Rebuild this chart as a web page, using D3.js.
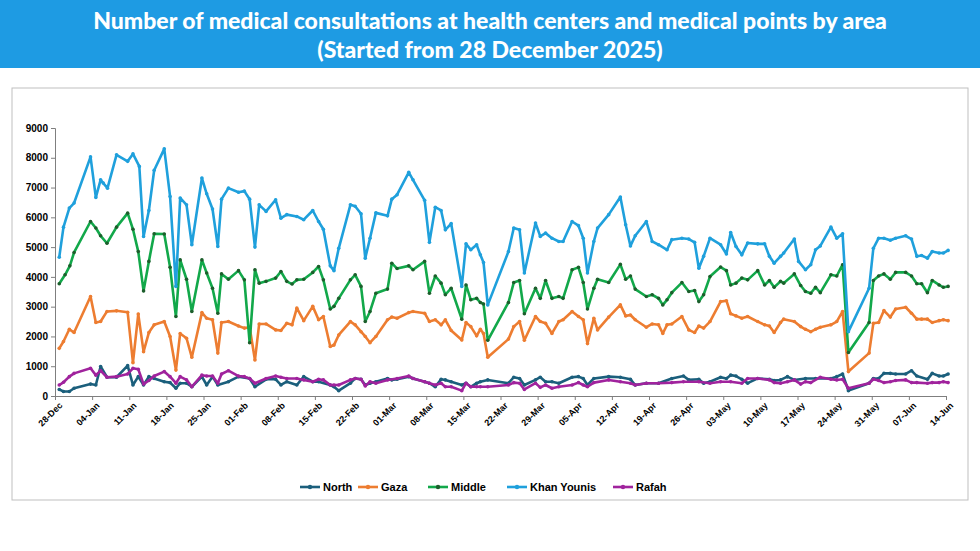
<!DOCTYPE html>
<html>
<head>
<meta charset="utf-8">
<script src="https://cdn.jsdelivr.net/npm/d3@7"></script>
<style>
  body { margin: 0; background: #fff; font-family: Arial, "Liberation Sans", sans-serif; }
  #banner { position: absolute; left: 0; top: 0; width: 980px; height: 68px; background: #1e9be3;
    color: #fff; font-family: Lato, "Open Sans", sans-serif; font-weight: 900; font-size: 23px;
    text-align: center; line-height: 29px; padding-top: 6px; box-sizing: border-box; }
  #chart { position: absolute; left: 0; top: 0; }
</style>
</head>
<body>
<div id="banner">Number of medical consultations at health centers and medical points by area<br>(Started from 28 December 2025)</div>
<div id="chart"></div>
<script>
// day offsets from 28-Dec-2025, value
var north = [[0.8,220],[1.6,150],[2.7,150],[3.6,260],[6.7,400],[7.7,370],[8.6,990],[9.8,630],[11.6,630],[13.7,1020],[14.7,370],[15.7,650],[16.7,370],[17.7,650],[18.7,590],[20.6,480],[21.7,450],[22.8,260],
  [23.6,430],[24.8,430],[25.8,310],[27.7,650],[28.6,370],[29.7,650],[30.7,370],[32.7,480],[34.6,650],[36.7,590],[37.7,310],[39.8,560],[41.6,560],[42.6,370],[43.7,480],[45.6,370],[46.9,650],[48.6,480],[49.7,480],
  [51.9,370],[52.6,310],[53.5,180],[55.7,430],[56.6,590],[57.7,560],[58.5,370],[59.4,430],[60.5,480],[62.7,590],[63.5,540],[64.5,560],[66.7,650],[67.5,590],[69.7,480],[70.6,430],[71.7,310],[72.8,560],[73.6,540],[74.7,480],[76.7,370],[77.5,430],[78.4,310],[79.5,430],
  [80.2,480],[81.6,540],[85.5,430],[86.5,630],[87.6,590],[88.5,370],[90.6,540],[91.5,630],[92.5,480],[93.7,480],[95.0,430],[97.5,630],[98.7,650],[99.6,590],[100.4,370],[101.6,590],[104.4,650],[106.6,630],
  [108.5,560],[109.4,370],[111.5,430],[113.8,430],[116.3,590],[118.5,670],[119.5,540],[121.4,560],[122.3,430],[123.5,480],[125.5,630],[126.6,590],[127.4,700],[128.4,670],[129.5,560],[130.6,430],[132.5,590],[134.7,560],[135.6,520],
  [136.8,540],[138.1,650],[139.4,540],[141.5,590],[143.4,590],[146.3,590],[147.4,650],[148.5,740],[149.6,180],[153.5,430],[154.3,590],[155.3,590],[156.3,760],[157.5,760],[158.5,740],[160.4,740],[161.5,850],[162.5,670],[164.5,560],[165.4,760],[166.7,670],[167.5,670],[168.4,740]];

var gaza = [[0.8,1600],[1.6,1830],[2.7,2240],[3.6,2130],[6.7,3340],[7.7,2470],[8.6,2500],[9.8,2840],[11.6,2860],[13.7,2810],[14.7,1120],[15.7,2750],[16.7,1490],[17.7,2130],[18.7,2390],[20.6,2500],[21.7,2000],[22.8,870],
  [23.6,2100],[24.8,1940],[25.8,1300],[27.7,2800],[28.6,2610],[29.7,2560],[30.7,1440],[31.4,2470],[32.7,2500],[34.6,2350],[35.7,2280],[36.7,2310],[37.7,1210],[38.5,2420],[39.8,2420],[41.6,2220],[42.6,2200],[43.7,2440],[44.7,2390],[45.6,2950],[46.9,2530],[48.6,3010],[49.7,2560],[50.6,2670],
  [51.9,1660],[52.6,1710],[53.5,2050],[55.7,2500],[56.6,2390],[57.7,2160],[58.5,2000],[59.4,1790],[60.5,2000],[62.7,2560],[63.5,2650],[64.5,2610],[66.7,2800],[67.5,2840],[69.7,2780],[70.6,2500],[71.7,2560],[72.8,2390],[73.6,2560],[74.7,2200],[76.7,1880],[77.5,2470],[78.4,2330],[79.5,2020],
  [80.2,2240],[80.8,2100],[81.6,1300],[85.5,1910],[86.5,2330],[87.6,2500],[88.5,1870],[90.6,2670],[91.5,2500],[92.5,2440],[93.7,2100],[95.0,2500],[95.8,2560],[97.5,2840],[98.7,2670],[99.6,2560],[100.4,1760],[101.6,2610],[102.3,2220],[104.4,2650],[106.6,3060],[107.6,2690],
  [108.5,2720],[109.4,2560],[111.5,2310],[112.6,2420],[113.8,2390],[114.6,2100],[115.4,2390],[116.3,2420],[118.2,2670],[119.5,2220],[120.6,2130],[121.4,2350],[122.3,2280],[123.5,2500],[125.5,3170],[126.6,3200],[127.4,2760],[128.4,2690],[129.5,2610],[130.6,2670],[132.5,2500],[133.8,2390],[134.7,2350],[135.6,2130],
  [136.8,2470],[137.4,2580],[139.4,2500],[140.6,2330],[141.5,2240],[142.5,2160],[143.4,2240],[144.3,2310],[146.3,2390],[147.4,2500],[148.5,2840],[149.6,820],[153.5,1440],[154.3,2440],[155.3,2470],[156.3,2870],[157.5,2650],[158.5,2920],[160.4,2980],[161.5,2780],[162.5,2580],[163.4,2580],[164.5,2580],[165.4,2470],[166.7,2530],[167.5,2560],[168.4,2530]];

var middle = [[0.8,3770],[1.9,4070],[2.8,4370],[3.6,4820],[6.7,5860],[7.7,5640],[8.6,5380],[9.8,5130],[11.6,5670],[13.7,6140],[14.7,5600],[15.7,4850],[16.7,3530],[17.7,4520],[18.7,5450],[20.6,5440],[21.7,4320],[22.8,2670],
  [23.6,4570],[24.8,3920],[25.8,2840],[27.7,4570],[28.6,4130],[29.7,3620],[30.7,2780],[31.4,4100],[32.7,3920],[34.6,4210],[35.7,3900],[36.7,1790],[37.7,4240],[38.5,3790],[39.8,3850],[41.6,3960],[42.6,4180],[43.7,3850],[44.7,3760],[45.6,3900],[46.9,3920],[48.6,4150],[49.7,4350],[50.6,3900],
  [51.9,2920],[52.6,3010],[53.5,3280],[55.7,3900],[56.6,4070],[57.7,3680],[58.5,2500],[59.4,2840],[60.5,3450],[62.7,3590],[63.5,4460],[64.5,4280],[66.7,4370],[67.5,4240],[69.7,4520],[70.6,3450],[71.7,4030],[72.8,3790],[73.6,3400],[74.7,3620],[76.7,2580],[77.5,3730],[78.4,3230],[79.5,3280],
  [80.2,3140],[80.8,3090],[81.6,1870],[85.5,3140],[86.5,3810],[87.6,3880],[88.5,2760],[90.6,3620],[91.5,3280],[92.5,3880],[93.7,3280],[95.0,3340],[95.8,3280],[97.5,4240],[98.7,4320],[99.6,3810],[100.4,2920],[101.6,3620],[102.3,3920],[104.4,3810],[106.6,4420],[107.6,3920],
  [108.5,4030],[109.4,3590],[111.5,3340],[112.6,3400],[113.8,3280],[114.6,3060],[115.4,3230],[116.3,3470],[118.2,3810],[119.5,3510],[120.6,3540],[121.4,3170],[122.3,3400],[123.5,4010],[125.5,4330],[126.6,4210],[127.4,3730],[128.4,3790],[129.5,3960],[130.6,3900],[132.5,4210],[133.8,3730],[134.7,3880],[135.6,3650],
  [136.8,3850],[137.4,3790],[139.4,4100],[140.6,3710],[141.5,3510],[142.5,3450],[143.4,3650],[144.3,3470],[146.3,4070],[147.4,4030],[148.5,4410],[149.6,1460],[153.5,2470],[154.3,3880],[155.3,4030],[156.3,4100],[157.5,3920],[158.5,4150],[160.4,4150],[161.5,4030],[162.5,3770],[163.4,3770],[164.5,3470],[165.4,3880],[166.7,3730],[167.5,3650],[168.4,3680]];

var khanYounis = [[0.8,4660],[1.6,5670],[2.7,6310],[3.6,6480],[6.7,8030],[7.7,6670],[8.6,7260],[9.1,7150],[9.9,6980],[11.6,8100],[13.7,7880],[14.7,8130],[15.9,7710],[16.7,5360],[17.7,6230],[18.7,7580],[20.6,8300],[21.7,6700],[22.8,3680],
  [23.6,6650],[24.8,6420],[25.8,5080],[27.7,7320],[28.6,6790],[29.7,6280],[30.7,5020],[31.4,6610],[32.7,6980],[34.6,6840],[35.7,6880],[36.7,6610],[37.7,5000],[38.5,6420],[39.8,6200],[41.6,6590],[42.6,5970],[43.7,6090],[45.6,6030],[46.9,5920],[48.6,6230],[49.7,5860],[50.6,5600],
  [51.9,4370],[52.6,4210],[53.5,4960],[55.7,6420],[56.6,6370],[57.7,6120],[58.5,4630],[59.4,5300],[60.5,6150],[62.7,6050],[63.5,6610],[64.5,6760],[66.7,7510],[67.5,7260],[69.7,6570],[70.6,5160],[71.7,6340],[72.8,6230],[73.6,5580],[74.7,5790],[76.7,3680],[77.5,5110],[78.4,4910],[79.5,5080],
  [80.2,4740],[80.8,4480],[81.6,3060],[85.5,4850],[86.5,5640],[87.6,5580],[88.5,4130],[90.6,5810],[91.5,5360],[92.5,5470],[93.7,5300],[95.0,5190],[95.8,5190],[97.5,5860],[98.7,5720],[99.6,5300],[100.4,4130],[101.6,5190],[102.3,5640],[104.4,6090],[106.6,6680],[107.6,5750],
  [108.5,5040],[109.4,5380],[111.5,5860],[112.6,5190],[113.8,5080],[115.4,4910],[116.3,5250],[118.2,5300],[119.5,5270],[120.6,5160],[121.4,4290],[122.3,4690],[123.5,5300],[125.5,5080],[126.6,4770],[127.4,5490],[128.4,5020],[129.5,4740],[130.6,5140],[132.5,5110],[133.8,5110],[134.7,4690],[135.6,4460],
  [136.8,4690],[137.4,4800],[139.4,5270],[140.2,4520],[141.5,4240],[142.5,4410],[143.4,4910],[144.3,5040],[146.3,5670],[147.4,5300],[148.5,5450],[149.6,2160],[153.5,3620],[154.3,4960],[155.3,5300],[156.3,5300],[157.5,5230],[158.5,5300],[160.4,5380],[161.5,5270],[162.5,4690],[163.4,4720],[164.5,4630],[165.4,4850],[166.7,4800],[167.5,4800],[168.4,4890]];

var rafah = [[0.8,370],[1.6,460],[2.7,650],[3.6,760],[6.7,930],[7.7,700],[8.6,850],[9.8,630],[11.6,650],[13.7,740],[14.7,930],[15.7,900],[16.7,400],[17.7,520],[18.7,670],[20.6,820],[21.7,650],[22.8,430],
  [23.6,650],[24.8,540],[25.8,310],[27.7,700],[28.6,670],[29.7,670],[30.7,430],[31.4,740],[32.7,850],[34.6,670],[35.7,650],[36.7,590],[37.7,430],[39.8,590],[41.6,670],[42.6,630],[43.7,590],[45.6,590],[46.9,540],[48.6,480],[49.7,560],[50.6,540],
  [51.9,370],[52.6,370],[53.5,370],[55.7,540],[56.6,590],[57.7,560],[58.5,340],[59.4,480],[60.5,430],[62.7,540],[64.5,590],[66.7,670],[67.5,590],[69.7,480],[70.6,430],[71.7,370],[72.8,430],[73.6,310],[74.7,310],[76.7,180],[77.5,430],[78.4,310],[79.5,310],
  [80.2,310],[81.6,310],[85.5,370],[86.5,450],[87.6,430],[88.5,220],[90.6,430],[91.5,290],[92.5,370],[93.7,260],[95.0,310],[97.5,370],[98.7,450],[99.6,370],[100.4,310],[101.6,450],[104.4,540],[106.6,480],
  [108.5,430],[109.4,370],[111.5,430],[113.8,430],[116.3,450],[118.5,480],[121.4,480],[123.5,430],[125.5,480],[127.4,480],[129.5,430],[130.6,590],[132.5,590],[134.7,540],[135.6,450],
  [136.8,430],[138.1,480],[139.4,540],[140.6,400],[141.5,480],[142.5,450],[144.3,630],[146.3,560],[147.4,540],[148.5,560],[149.6,260],[153.5,430],[154.3,560],[155.3,520],[156.3,450],[157.5,480],[158.5,520],[160.4,540],[161.5,450],[162.5,450],[164.5,430],[165.4,450],[166.7,450],[167.5,480],[168.4,450]];

var seriesNames = ["North", "Gaza", "Middle", "Khan Younis", "Rafah"];
var seriesData = [north, gaza, middle, khanYounis, rafah];
var seriesColors = ["#1b5f7c", "#ed7d31", "#12a84a", "#1fa0dc", "#a0239d"];
var markerColors = ["#1b5f7c", "#ed7d31", "#1d5e2c", "#1fa0dc", "#a0239d"];
var tickLabels = ["28-Dec","04-Jan","11-Jan","18-Jan","25-Jan","01-Feb","08-Feb","15-Feb","22-Feb","01-Mar","08-Mar","15-Mar","22-Mar","29-Mar","05-Apr","12-Apr","19-Apr","26-Apr","03-May","10-May","17-May","24-May","31-May","07-Jun","14-Jun"];
var yTicks = [0,1000,2000,3000,4000,5000,6000,7000,8000,9000];

var W = 980, H = 551;
var svg = d3.select('#chart').append('svg').attr('width', W).attr('height', H);

svg.append('rect').attr('x', 12).attr('y', 88).attr('width', 956).attr('height', 412)
  .attr('fill', 'none').attr('stroke', '#bfbfbf').attr('stroke-width', 1);

var x = d3.scaleLinear().domain([0, 168]).range([55, 946]);
var y = d3.scaleLinear().domain([0, 9000]).range([396, 128]);

var yAxis = svg.append('g').attr('transform', 'translate(55,0)')
  .call(d3.axisLeft(y).tickValues(yTicks).tickSize(4).tickFormat(d3.format('d')));
yAxis.selectAll('text').attr('font-size', 10).attr('font-weight', 'bold').attr('fill', '#000');
yAxis.selectAll('line, path').attr('stroke', '#7f7f7f');

var xAxis = svg.append('g').attr('transform', 'translate(0,396)')
  .call(d3.axisBottom(x).tickValues(d3.range(0, 169, 7)).tickSize(4)
    .tickFormat(function(d) { return tickLabels[d / 7]; }));
xAxis.select('.domain').attr('stroke', '#7f7f7f');
xAxis.selectAll('line').attr('stroke', '#7f7f7f');
xAxis.selectAll('text').attr('font-size', 9).attr('font-weight', 'bold').attr('fill', '#000')
  .attr('text-anchor', 'end').attr('dx', '-0.2em').attr('dy', '0.6em')
  .attr('transform', 'rotate(-45)');

var line = d3.line().x(function(d) { return x(d[0]); }).y(function(d) { return y(d[1]); });

seriesData.forEach(function(s, i) {
  svg.append('path').datum(s).attr('d', line).attr('fill', 'none')
    .attr('stroke', seriesColors[i]).attr('stroke-width', 2.6).attr('stroke-linejoin', 'round');
  svg.append('g').selectAll('circle').data(s).enter().append('circle')
    .attr('cx', function(d) { return x(d[0]); }).attr('cy', function(d) { return y(d[1]); })
    .attr('r', 1.8).attr('fill', markerColors[i]);
});

// legend
var legendX = [300, 358, 428, 507, 613];
seriesNames.forEach(function(name, i) {
  var g = svg.append('g').attr('transform', 'translate(' + legendX[i] + ',487)');
  g.append('line').attr('x1', 0).attr('x2', 20).attr('stroke', seriesColors[i]).attr('stroke-width', 2.6);
  g.append('circle').attr('cx', 10).attr('r', 2.2).attr('fill', markerColors[i]);
  g.append('text').attr('x', 23).attr('y', 4).attr('font-size', 11).attr('font-weight', 'bold').text(name);
});
</script>
</body>
</html>
